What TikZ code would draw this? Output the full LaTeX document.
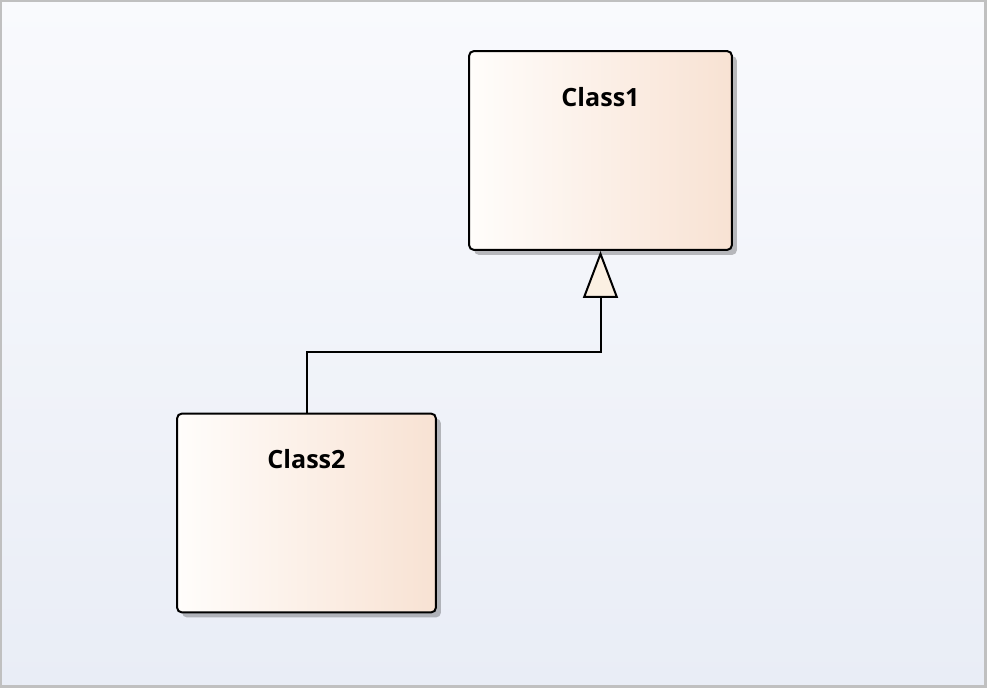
\documentclass[tikz,border=0pt]{standalone}
\usepackage{fontspec}
\setmainfont{Open Sans}
\usetikzlibrary{arrows.meta,shadows}
\definecolor{bgtop}{HTML}{F9FAFD}
\definecolor{bgbottom}{HTML}{E9EDF6}
\definecolor{frame}{HTML}{C0C0C0}
\definecolor{classleft}{HTML}{FFFDFB}
\definecolor{classright}{HTML}{F8E2D3}
\definecolor{headfill}{HTML}{FBF0E2}
\tikzset{
  classbox/.style={draw=black, line width=0.04cm, rounded corners=0.1cm,
    left color=classleft, right color=classright,
    minimum width=5.26cm, minimum height=3.98cm,
    drop shadow={shadow xshift=0.1cm, shadow yshift=-0.1cm, fill=black, opacity=0.25}},
  classname/.style={font=\bfseries\fontsize{14.3}{17}\selectfont, anchor=center, yshift=-0.94cm},
  generalization/.style={line width=0.04cm,
    -{Triangle[open, width=0.7cm, length=0.94cm, fill=headfill, line width=0.04cm]}}
}
\begin{document}
\begin{tikzpicture}[x=0.02cm,y=-0.02cm]
\useasboundingbox (0,0) rectangle (987,688);
\shade[top color=bgtop, bottom color=bgbottom] (0,0) rectangle (987,688);
\draw[frame, line width=0.05cm] (1,1) rectangle (985.5,686.5);
% classes
\node[classbox, label={[classname, name=c1name]north:Class1}] (c1) at (600.5,150.5) {};
\node[classbox, minimum width=5.18cm, label={[classname, name=c2name]north:Class2}] (c2) at (306.5,513) {};
% inheritance
\draw[generalization] (c2.north) -- ++(0,-61) -| (c1.south);
\end{tikzpicture}
\end{document}
